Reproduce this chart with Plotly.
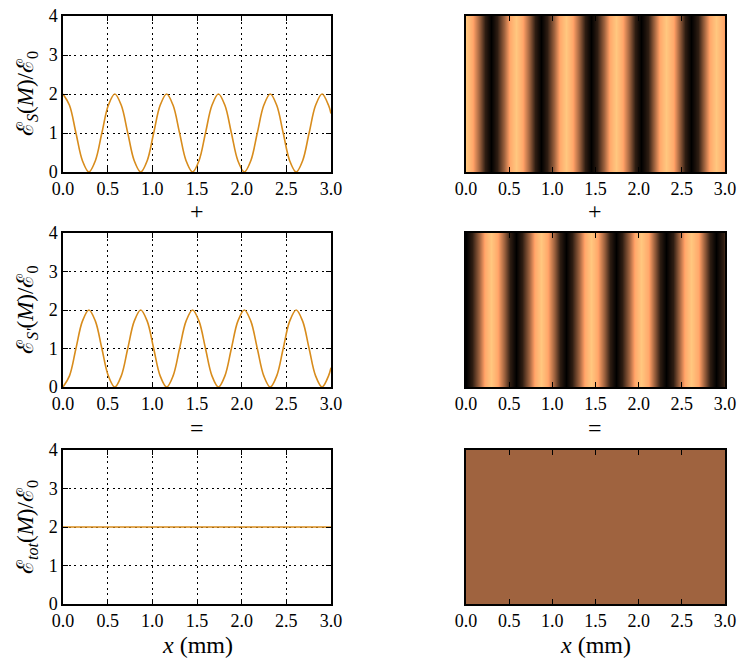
import plotly.graph_objects as go

# ---- data ----
x_mm = [0.000, 0.0725, 0.145, 0.2175, 0.290, 0.3625, 0.435, 0.5075,
        0.580, 0.6525, 0.725, 0.7975, 0.870, 0.9425, 1.015, 1.0875,
        1.160, 1.2325, 1.305, 1.3775, 1.450, 1.5225, 1.595, 1.6675,
        1.740, 1.8125, 1.885, 1.9575, 2.030, 2.1025, 2.175, 2.2475,
        2.320, 2.3925, 2.465, 2.5375, 2.610, 2.6825, 2.755, 2.8275,
        2.900, 2.9725, 3.000]

e_s = [2.00, 1.71, 1.00, 0.29, 0.00, 0.29, 1.00, 1.71,
       2.00, 1.71, 1.00, 0.29, 0.00, 0.29, 1.00, 1.71,
       2.00, 1.71, 1.00, 0.29, 0.00, 0.29, 1.00, 1.71,
       2.00, 1.71, 1.00, 0.29, 0.00, 0.29, 1.00, 1.71,
       2.00, 1.71, 1.00, 0.29, 0.00, 0.29, 1.00, 1.71,
       2.00, 1.71, 1.50]

e_sp = [0.00, 0.29, 1.00, 1.71, 2.00, 1.71, 1.00, 0.29,
        0.00, 0.29, 1.00, 1.71, 2.00, 1.71, 1.00, 0.29,
        0.00, 0.29, 1.00, 1.71, 2.00, 1.71, 1.00, 0.29,
        0.00, 0.29, 1.00, 1.71, 2.00, 1.71, 1.00, 0.29,
        0.00, 0.29, 1.00, 1.71, 2.00, 1.71, 1.00, 0.29,
        0.00, 0.29, 0.50]

x_tot = [0.0, 1.0, 2.0, 3.0]
e_tot = [2.0, 2.0, 2.0, 2.0]

x_ticks = [0.0, 0.5, 1.0, 1.5, 2.0, 2.5, 3.0]
x_ticklabels = ["0.0", "0.5", "1.0", "1.5", "2.0", "2.5", "3.0"]
y_ticks = [0, 1, 2, 3, 4]

y_labels = ["ℰ<sub><i>S</i></sub>(<i>M</i>)/ℰ<sub>0</sub>",
            "ℰ<sub><i>S'</i></sub>(<i>M</i>)/ℰ<sub>0</sub>",
            "ℰ<sub><i>tot</i></sub>(<i>M</i>)/ℰ<sub>0</sub>"]

# ---- styling ----
W, H = 739, 660
FONT = "Liberation Serif"
LINE_COLOR = "#d88c1c"
copper = [[0.0, "rgb(0,0,0)"], [0.8, "rgb(255,159,101)"], [1.0, "rgb(255,199,127)"]]

left_dom = [63 / W, 331 / W]
right_dom = [466 / W, 725 / W]
rows_px = [(16, 172), (233, 387), (450, 604)]
row_doms = [[1 - b / H, 1 - t / H] for t, b in rows_px]

fig = go.Figure()

series = [(x_mm, e_s), (x_mm, e_sp), (x_tot, e_tot)]
heat_ranges = [(0, 2), (0, 2), (0, 4)]

for i, ((xs, ys), dom, (zmn, zmx)) in enumerate(zip(series, row_doms, heat_ranges)):
    la = 2 * i + 1
    ra = 2 * i + 2
    fig.add_trace(go.Scatter(x=xs, y=ys, mode="lines",
                             line=dict(color=LINE_COLOR, width=1.6, shape="spline", smoothing=1.0),
                             xaxis=f"x{la}", yaxis=f"y{la}", showlegend=False,
                             hoverinfo="skip"))
    fig.add_trace(go.Heatmap(x=xs, y=[0, 1], z=[ys, ys], zmin=zmn, zmax=zmx,
                             colorscale=copper, showscale=False, zsmooth="best",
                             xaxis=f"x{ra}", yaxis=f"y{ra}", hoverinfo="skip"))
    common_x = dict(range=[0, 3], tickvals=x_ticks, ticktext=x_ticklabels,
                    ticks="inside", ticklen=5, tickwidth=1, tickcolor="black",
                    showline=True, linecolor="black", linewidth=1.5, mirror="ticks",
                    tickfont=dict(family=FONT, size=18, color="black"),
                    zeroline=False, automargin=False)
    fig.layout[f"xaxis{la}"] = dict(domain=left_dom, anchor=f"y{la}",
                                    showgrid=True, gridcolor="black", gridwidth=1,
                                    griddash="2px,3.5px", **common_x)
    fig.layout[f"yaxis{la}"] = dict(domain=dom, anchor=f"x{la}", range=[0, 4],
                                    tickvals=y_ticks, ticks="inside", ticklen=5,
                                    tickcolor="black", showline=True, linecolor="black",
                                    linewidth=1.5, mirror="ticks", showgrid=True,
                                    gridcolor="black", gridwidth=1, griddash="2px,3.5px",
                                    tickfont=dict(family=FONT, size=18, color="black"),
                                    zeroline=False, automargin=False)
    fig.layout[f"xaxis{ra}"] = dict(domain=right_dom, anchor=f"y{ra}", showgrid=False,
                                    **common_x)
    fig.layout[f"yaxis{ra}"] = dict(domain=dom, anchor=f"x{ra}", range=[-0.5, 1.5],
                                    showticklabels=False, ticks="", showgrid=False,
                                    showline=True, linecolor="black", linewidth=1.5,
                                    mirror=True, zeroline=False, automargin=False)

annotations = []
for lab, (t, b) in zip(y_labels, rows_px):
    annotations.append(dict(text=lab, x=27 / W, y=1 - (t + b) / 2 / H, xref="paper",
                            yref="paper", showarrow=False, textangle=-90,
                            font=dict(family=FONT, size=23, color="black"),
                            xanchor="center", yanchor="middle"))
for sym, ypx in [("+", 211), ("=", 428)]:
    for cx in [197, 595]:
        annotations.append(dict(text=sym, x=cx / W, y=1 - ypx / H, xref="paper",
                                yref="paper", showarrow=False,
                                font=dict(family=FONT, size=24, color="black"),
                                xanchor="center", yanchor="middle"))
for cx in [197, 595]:
    annotations.append(dict(text="<i>x</i> (mm)", x=cx / W, y=1 - 645 / H, xref="paper",
                            yref="paper", showarrow=False,
                            font=dict(family=FONT, size=24, color="black"),
                            xanchor="center", yanchor="middle"))

fig.update_layout(width=W, height=H, margin=dict(l=0, r=0, t=0, b=0),
                  paper_bgcolor="white", plot_bgcolor="white",
                  annotations=annotations)

fig.write_html("out.html", config={"displayModeBar": False},
               post_script="document.body.style.margin='0';document.body.style.overflow='hidden';")
